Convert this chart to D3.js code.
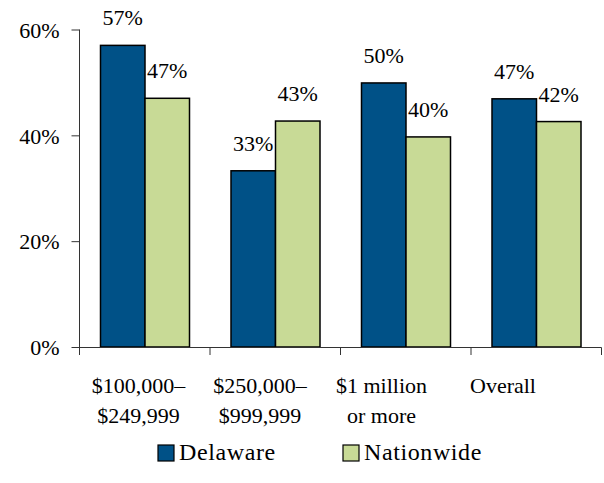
<!DOCTYPE html>
<html><head><meta charset="utf-8">
<script src="https://cdn.jsdelivr.net/npm/d3@7/dist/d3.min.js"></script>
<style>body{margin:0;background:#fff}svg{display:block}
svg text{font-family:"Liberation Serif","Times New Roman",Tinos,"DejaVu Serif",serif;}</style>
</head><body>
<script>
const categories = [["$100,000\u2013","$249,999"],["$250,000\u2013","$999,999"],["$1 million","or more"],["Overall"]];
const seriesNames = ["Delaware","Nationwide"];
const delaware = [57, 33.3, 49.9, 46.9];
const nationwide = [47, 42.7, 39.7, 42.6];
const delawareLabels = ["57%","33%","50%","47%"];
const nationwideLabels = ["47%","43%","40%","42%"];
const yTicks = [0, 20, 40, 60];
const colors = ["#005187","#C8DA96"];

const W = 604, H = 483;
const svg = d3.select("body").append("svg").attr("width", W).attr("height", H);

const y = d3.scaleLinear().domain([0, 60]).range([347, 29.5]);
const x = d3.scaleBand().domain(d3.range(categories.length)).range([79.5, 601.5]).paddingInner(0).paddingOuter(0);
const inner = d3.scaleBand().domain([0,1]).range([21, x.bandwidth() - 20.5]);
const labelX = d3.scalePoint().domain(d3.range(categories.length)).range([138.5, 503]);

// bars
const series = [delaware, nationwide];
const labels = [delawareLabels, nationwideLabels];
series.forEach((vals, s) => {
  svg.append("g").selectAll("rect").data(vals).join("rect")
    .attr("x", (d, i) => x(i) + inner(s))
    .attr("y", d => y(d))
    .attr("width", inner.bandwidth())
    .attr("height", d => y(0) - y(d))
    .attr("fill", colors[s])
    .attr("stroke", "#000").attr("stroke-width", 1.5);
  svg.append("g").selectAll("text").data(vals).join("text")
    .attr("x", (d, i) => x(i) + inner(s) + inner.bandwidth() / 2)
    .attr("y", d => y(d) - 20)
    .attr("text-anchor", "middle")
    .style("font-size", "22px")
    .text((d, i) => labels[s][i]);
});

// y axis
const yAxis = d3.axisLeft(y).tickValues(yTicks).tickFormat(d => d + "%").tickSize(8).tickSizeOuter(0);
const gy = svg.append("g").attr("transform", "translate(79.5,0)").call(yAxis);
gy.attr("font-family", null).attr("font-size", null);
gy.select(".domain").attr("d", "M0,29.5V355").attr("stroke", "#333");
gy.selectAll(".tick line").attr("stroke", "#333");
gy.selectAll(".tick text").style("font-size", "22px").attr("fill", "#000").attr("x", -20).attr("dy", "0.35em");

// x axis
const bounds = d3.range(categories.length + 1).map(i => i < categories.length ? x(i) : x(categories.length - 1) + x.bandwidth());
const gx = svg.append("g");
gx.append("line").attr("x1", 79.5).attr("x2", 601.5).attr("y1", 347.5).attr("y2", 347.5).attr("stroke", "#333");
gx.selectAll("line.t").data(bounds.slice(1)).join("line").attr("class","t")
  .attr("x1", d => d).attr("x2", d => d).attr("y1", 347.5).attr("y2", 355).attr("stroke", "#333");
gx.selectAll("text").data(categories).join("text")
  .style("font-size", "22px").attr("text-anchor", "middle")
  .each(function(lines, i) {
    d3.select(this).selectAll("tspan").data(lines).join("tspan")
      .attr("x", labelX(i)).attr("y", (l, j) => 393 + j * 30).text(l => l);
  });

// legend
const legendX = [158, 343];
const lg = svg.append("g");
seriesNames.forEach((n, s) => {
  lg.append("rect").attr("x", legendX[s]).attr("y", 445).attr("width", 16).attr("height", 16)
    .attr("fill", colors[s]).attr("stroke", "#000").attr("stroke-width", 1.2);
  lg.append("text").attr("x", legendX[s] + 21).attr("y", 460)
    .style("font-size", "24px").style("letter-spacing", "0.6px").text(n);
});
</script>
</body></html>
